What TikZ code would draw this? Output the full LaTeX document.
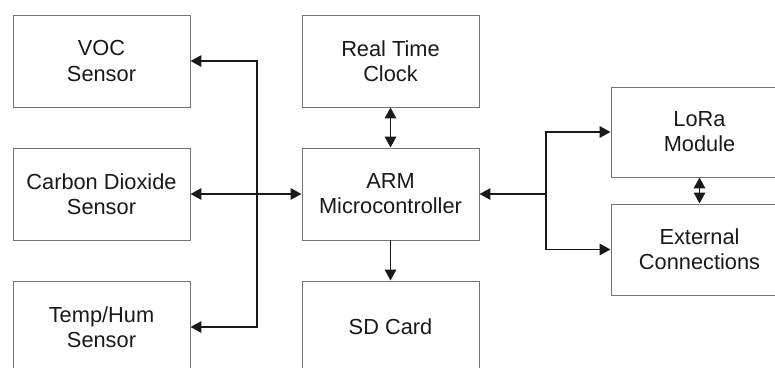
\documentclass[tikz,border=0pt]{standalone}
\usepackage{fontspec}
\setmainfont{Liberation Sans}
\usetikzlibrary{arrows.meta}

\begin{document}
\begin{tikzpicture}[
    font=\fontsize{15.5pt}{17.8pt}\selectfont,
    block/.style={draw=black!55, line width=0.7pt, text=black!90, align=center,
      minimum width=4.425cm, minimum height=2.3cm, inner sep=0pt},
    link/.style={line width=1.4pt, black!90,
      {Triangle[length=2.7mm,width=2.8mm]}-{Triangle[length=2.7mm,width=2.8mm]}},
    onelink/.style={line width=1.4pt, black!90, -{Triangle[length=2.7mm,width=2.8mm]}}
  ]

  % Page frame: boxes at the bottom and right run off the page
  \useasboundingbox (0,0) rectangle (19.375,-9.175);
  \clip (0,0) rectangle (19.375,-9.175);

  % Column centres (x):
  %  sensors    : 2.54
  %  controller : 9.76
  %  radio      : 17.49
  % Row centres (y):
  %  top    : -1.525
  %  middle : -4.85
  %  bottom : -8.175

  % Sensors
  \node[block] (voc)  at (2.5375, -1.525) {VOC\\Sensor};
  \node[block] (co2)  at (2.5375, -4.85)  {Carbon Dioxide\\Sensor};
  \node[block] (temp) at (2.5375, -8.175) {Temp/Hum\\Sensor};

  % Controller column
  \node[block] (rtc) at (9.7625, -1.525) {Real Time\\Clock};
  \node[block] (arm) at (9.7625, -4.85)  {ARM\\Microcontroller};
  \node[block] (sd)  at (9.7625, -8.175) {SD Card};

  % Radio / outputs
  \node[block, minimum height=2.25cm] (lora) at (17.4875, -3.3)    {LoRa\\Module};
  \node[block, minimum height=2.275cm] (ext) at (17.4875, -6.2375) {External\\Connections};

  % Bus and split points
  \coordinate (bus)   at (6.425, -4.85);
  \coordinate (split) at (13.65, -4.85);

  % Sensor links
  \draw[link] (voc.east) -| (bus |- temp.east) -- (temp.east);
  \draw[link] (co2.east) -- (arm.west);

  % Controller links
  \draw[link] (rtc.south) -- (arm.north);
  \draw[onelink] (arm.south) -- (sd.north);

  % Radio links
  \draw[link] (arm.east) -- (split) |- (lora.west);
  \draw[onelink] (split) |- (ext.west);
  \draw[link] (lora.south) -- (ext.north);

\end{tikzpicture}
\end{document}
